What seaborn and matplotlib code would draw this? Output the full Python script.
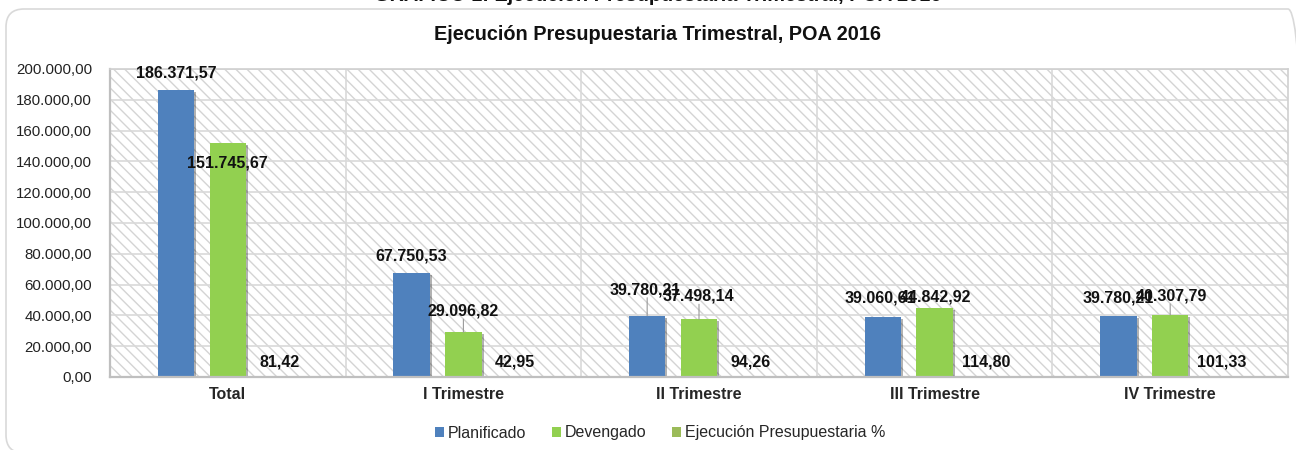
import numpy as np
import pandas as pd
import matplotlib
matplotlib.use("Agg")
import matplotlib.pyplot as plt
import matplotlib.patheffects as pe
from matplotlib.patches import Rectangle, FancyBboxPatch, Patch
from matplotlib.transforms import IdentityTransform
from matplotlib.ticker import FuncFormatter, FixedLocator
import seaborn as sns

# data
categorias = ["Total", "I Trimestre", "II Trimestre", "III Trimestre", "IV Trimestre"]
planificado = [186371.57, 67750.53, 39780.21, 39060.61, 39780.21]
devengado = [151745.67, 29096.82, 37498.14, 44842.92, 40307.79]
ejecucion_pct = [81.42, 42.95, 94.26, 114.80, 101.33]
series = ["Planificado", "Devengado", "Ejecución Presupuestaria %"]

colores = ["#4F81BD", "#92D050", "#9BBB59"]

# label offsets (pixels) from bar top, to mimic the hand placed excel labels
off_plan = [(0, 17), (0, 17), (-2, 26), (-2, 19), (0, 18)]
off_dev = [(0, -20), (0, 21), (-1, 23), (1, 11), (1, 19)]
off_pct = [(0, 15)] * 5
leader_plan = [False, False, True, False, False]
leader_dev = [False, True, True, False, True]

df = pd.DataFrame({
    "categoria": categorias * 3,
    "serie": np.repeat(series, len(categorias)),
    "valor": planificado + devengado + ejecucion_pct,
})


def fmt_es(v, dec=2):
    s = f"{v:,.{dec}f}"
    return s.replace(",", "X").replace(".", ",").replace("X", ".")


sns.set_theme(style="white")
plt.rcParams["font.family"] = ["Liberation Sans", "DejaVu Sans"]
plt.rcParams["hatch.linewidth"] = 1.0

W, H = 1296, 450
fig = plt.figure(figsize=(W / 100, H / 100), dpi=100)
ax = fig.add_axes([110 / W, 1 - 377 / H, (1288 - 110) / W, (377 - 69) / H])

# hatched plot background
ax.add_patch(Rectangle((0, 0), 1, 1, transform=ax.transAxes, facecolor="white",
                       edgecolor="#d4d4d4", hatch="\\\\\\", lw=0, zorder=0.1))

sns.barplot(data=df, x="categoria", y="valor", hue="serie", order=categorias,
            hue_order=series, palette=colores, width=0.66, gap=0.3,
            saturation=1, legend=False, ax=ax, zorder=2, edgecolor="none")

shadow = [pe.SimplePatchShadow(offset=(1.5, -1.5), shadow_rgbFace="#000000", alpha=0.3),
          pe.Normal()]
for cont in ax.containers:
    for p in cont:
        p.set_path_effects(shadow)

ax.set_xlim(-0.5, 4.5)
ax.set_ylim(0, 200000)
ax.set_yticks(np.arange(0, 200001, 20000))
ax.yaxis.set_major_formatter(FuncFormatter(lambda v, _: fmt_es(v)))
ax.xaxis.set_minor_locator(FixedLocator([0.5, 1.5, 2.5, 3.5]))
ax.set_axisbelow(True)
ax.grid(axis="y", which="major", color="#d9d9d9", lw=1.2)
ax.grid(axis="x", which="minor", color="#d9d9d9", lw=1.2)
ax.grid(axis="x", which="major", visible=False)
ax.set_xlabel("")
ax.set_ylabel("")
ax.tick_params(axis="y", length=0, pad=13, labelsize=10.8, labelcolor="#222222")
ax.tick_params(axis="x", which="both", length=0, pad=7, labelsize=11.5)
for lbl in ax.get_xticklabels():
    lbl.set_fontweight("bold")
for side in ["left", "bottom"]:
    ax.spines[side].set_color("#bfbfbf")
    ax.spines[side].set_linewidth(1.6)
for side in ["top", "right"]:
    ax.spines[side].set_color("#d0d0d0")
    ax.spines[side].set_linewidth(1.2)

# data labels
grupos = [(planificado, off_plan, leader_plan), (devengado, off_dev, leader_dev),
          (ejecucion_pct, off_pct, [False] * 5)]
for cont, (vals, offs, leads) in zip(ax.containers, grupos):
    for bar, v, (dx, dy), lead in zip(cont, vals, offs, leads):
        xc = bar.get_x() + bar.get_width() / 2
        ax.annotate(fmt_es(v), (xc, v), xytext=(dx, dy), textcoords="offset pixels",
                    ha="center", va="center", fontsize=11.5, fontweight="bold",
                    color="#111111", zorder=5)
        if lead:
            ax.annotate("", (xc, v), xytext=(0, dy - 8), textcoords="offset pixels",
                        arrowprops=dict(arrowstyle="-", color="#999999", lw=0.8,
                                        shrinkA=0, shrinkB=0), zorder=4)

# legend
handles = [Patch(facecolor=c, edgecolor="none") for c in colores]
fig.legend(handles, series, loc="center", bbox_to_anchor=(660 / W, 1 - 433 / H),
           ncol=3, frameon=False, fontsize=11.5, handlelength=0.55, handleheight=0.55,
           handletextpad=0.25, columnspacing=1.6)

# titles
fig.text(658 / W, 1 - 34 / H, "Ejecución Presupuestaria Trimestral, POA 2016",
         ha="center", va="center", fontsize=14.3, fontweight="bold", color="#111111")
fig.text(658 / W, 1 - 5 / H, "GRAFICO 1: Ejecución Presupuestaria Trimestral, POA 2016",
         ha="center", va="bottom", fontsize=14.3, fontweight="bold", color="#111111")

# rounded outer frame of the chart
fig.patches.append(FancyBboxPatch((6, -3), 1300, H - 9 + 3, boxstyle="round,pad=0,rounding_size=18",
                                  transform=IdentityTransform(), facecolor="none",
                                  edgecolor="#d9d9d9", lw=1.2, figure=fig))

fig.savefig("out.png", dpi=100)
